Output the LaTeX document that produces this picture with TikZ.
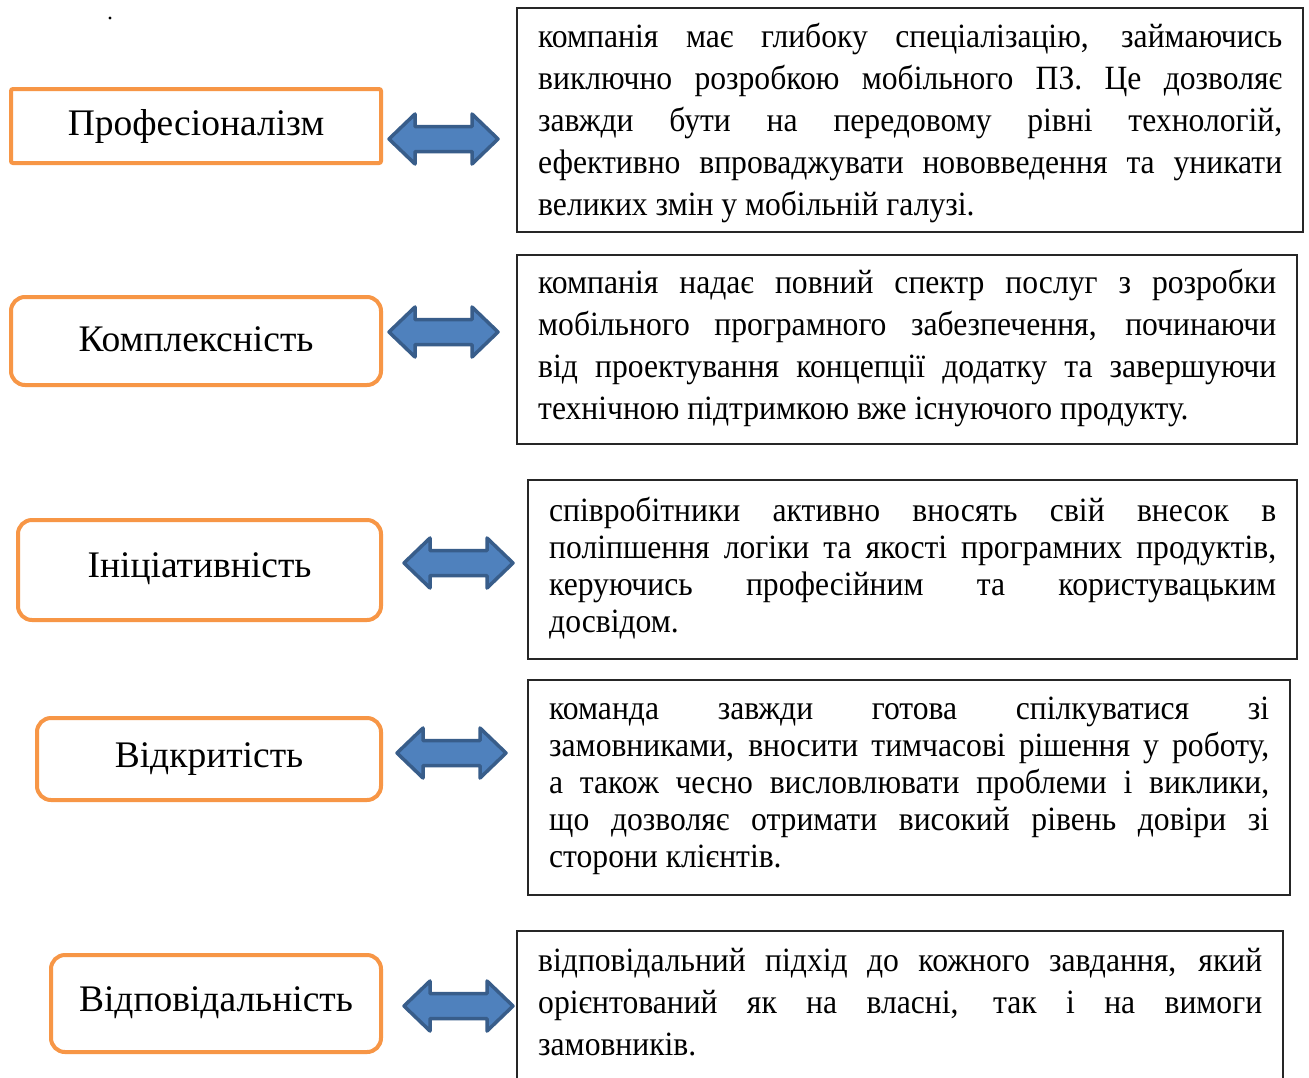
\documentclass[tikz,border=0pt]{standalone}
\usepackage{fontspec}
\setmainfont{Liberation Serif}
\newfontfamily\condfont[FakeStretch=0.93]{Liberation Serif}
\definecolor{orangeline}{HTML}{F79646}
\definecolor{arrowfill}{HTML}{4F81BD}
\definecolor{arrowline}{HTML}{385D8A}
\newlength\jlw
\newcommand\jl[1]{\hbox to \jlw{\spaceskip=0.25em plus 1fil\relax\xspaceskip=0.25em plus 1fil\relax #1}}
\newcommand\jlast[1]{\hbox{#1}}
\tikzset{
  x=1pt, y=-1pt,
  labelbox/.style={draw=orangeline, line width=4pt, rounded corners=14pt, fill=white,
    font=\fontsize{37.5}{42}\selectfont, inner sep=0pt},
  descbox/.style={draw=black!85, line width=1.1pt, inner sep=0pt},
  desctext/.style={anchor=base west, inner sep=0pt},
  dblarr/.pic={
    \draw[fill=arrowfill, draw=arrowline, line width=3.5pt, line join=round]
      (0,0) -- (26,-25) -- (26,-12.5) -- (83,-12.5) -- (83,-25) -- (109,0)
      -- (83,25) -- (83,12.5) -- (26,12.5) -- (26,25) -- cycle;
  }
}
\begin{document}
\begin{tikzpicture}
\useasboundingbox[fill=white] (0,0) rectangle (1309,1077);
\fill (110,18) circle (1.6);

% left label boxes
\node[labelbox, rounded corners=2pt, minimum width=370, minimum height=74] (l1) at (196,126) {\raisebox{-2pt}{Професіоналізм}};
\node[labelbox, minimum width=370, minimum height=88] (l2) at (196,341) {\raisebox{4pt}{Комплексність}};
\node[labelbox, minimum width=363, minimum height=100] (l3) at (199.5,570) {\raisebox{9pt}{Ініціативність}};
\node[labelbox, minimum width=344, minimum height=82] (l4) at (209,759) {\raisebox{1pt}{Відкритість}};
\node[labelbox, minimum width=330, minimum height=97] (l5) at (216,1003.5) {\raisebox{8pt}{Відповідальність}};

% arrows
\pic at (389,139) {dblarr};
\pic at (389,332) {dblarr};
\pic at (404,563) {dblarr};
\pic at (397,753) {dblarr};
\pic at (404,1006) {dblarr};

% description boxes
\node[descbox, minimum width=786, minimum height=224] (d1) at (910,120) {};
\node[descbox, minimum width=780, minimum height=189] (d2) at (907,349.5) {};
\node[descbox, minimum width=769, minimum height=179] (d3) at (912.5,569.5) {};
\node[descbox, minimum width=762, minimum height=215] (d4) at (909,787.5) {};
\node[descbox, minimum width=766, minimum height=150] (d5) at (900,1006) {};

\node[desctext] (t1) at (538,47)
  {\setlength\jlw{744pt}\condfont\fontsize{34}{42}\selectfont
   \begin{tabular}[t]{@{}l@{}}
   \jl{компанія має глибоку спеціалізацію, займаючись}\\
   \jl{виключно розробкою мобільного ПЗ. Це дозволяє}\\
   \jl{завжди бути на передовому рівні технологій,}\\
   \jl{ефективно впроваджувати нововведення та уникати}\\
   \jlast{великих змін у мобільній галузі.}
   \end{tabular}};
\node[desctext] (t2) at (538,293)
  {\setlength\jlw{738pt}\condfont\fontsize{34}{42}\selectfont
   \begin{tabular}[t]{@{}l@{}}
   \jl{компанія надає повний спектр послуг з розробки}\\
   \jl{мобільного програмного забезпечення, починаючи}\\
   \jl{від проектування концепції додатку та завершуючи}\\
   \jlast{технічною підтримкою вже існуючого продукту.}
   \end{tabular}};
\node[desctext] (t3) at (549,521)
  {\setlength\jlw{727pt}\condfont\fontsize{34}{37}\selectfont
   \begin{tabular}[t]{@{}l@{}}
   \jl{співробітники активно вносять свій внесок в}\\
   \jl{поліпшення логіки та якості програмних продуктів,}\\
   \jl{керуючись професійним та користувацьким}\\
   \jlast{досвідом.}
   \end{tabular}};
\node[desctext] (t4) at (549,719)
  {\setlength\jlw{720pt}\condfont\fontsize{34}{37}\selectfont
   \begin{tabular}[t]{@{}l@{}}
   \jl{команда завжди готова спілкуватися зі}\\
   \jl{замовниками, вносити тимчасові рішення у роботу,}\\
   \jl{а також чесно висловлювати проблеми і виклики,}\\
   \jl{що дозволяє отримати високий рівень довіри зі}\\
   \jlast{сторони клієнтів.}
   \end{tabular}};
\node[desctext] (t5) at (538,971)
  {\setlength\jlw{724pt}\condfont\fontsize{34}{42}\selectfont
   \begin{tabular}[t]{@{}l@{}}
   \jl{відповідальний підхід до кожного завдання, який}\\
   \jl{орієнтований як на власні, так і на вимоги}\\
   \jlast{замовників.}
   \end{tabular}};
\end{tikzpicture}
\end{document}
